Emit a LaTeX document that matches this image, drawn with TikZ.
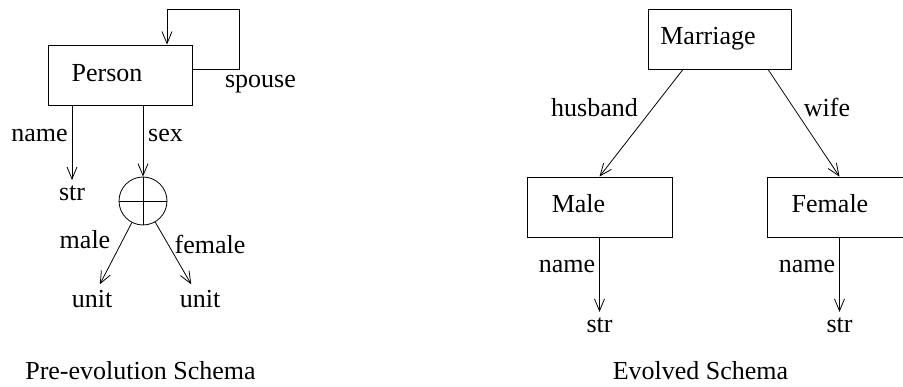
\documentclass[tikz,border=0pt]{standalone}
\usepackage{fontspec}
\setmainfont{Liberation Serif}
\usetikzlibrary{arrows.meta}

\begin{document}
\begin{tikzpicture}[x=1pt, y=-1pt, line width=0.8pt,
		font=\fontsize{26}{31}\selectfont,
		box/.style={draw, minimum width=144pt, minimum height=60pt},
		txt/.style={anchor=base, inner sep=6pt},
		arr/.style={-{Straight Barb[length=12pt, width=10pt]}}]
	\useasboundingbox (0,0) rectangle (903,387);

	% pre-evolution schema
	\node[box] (person) at (120,75) {};
	\node[txt] (persont) at (107,82) {Person};
	\coordinate (loop) at (239,9);
	\draw[arr] ([yshift=6pt]person.east) -| (loop) -| ([xshift=47pt]person.north);
	\node[txt] (spouse) at (260.5,88) {spouse};

	\node[txt] (strl) at (72,201) {str};
	\node[draw, circle, minimum size=48pt, inner sep=0pt] (sum) at (143,201) {};
	\draw (sum.north) -- (sum.south) (sum.west) -- (sum.east);
	\draw[arr] (strl |- person.south) -- (strl);
	\draw[arr] (sum |- person.south) -- (sum);
	\node[txt] (namel) at (39.5,142) {name};
	\node[txt] (sex) at (165.5,142) {sex};

	\node[txt] (unitl) at (92,308) {unit};
	\node[txt] (unitr) at (200,308) {unit};
	\draw[arr] (sum) -- (unitl);
	\draw[arr] (sum) -- (unitr);
	\node[txt] (male) at (85,249) {male};
	\node[txt] (female) at (210,254) {female};

	\node[txt] (pre) at (140.5,380) {Pre-evolution Schema};

	% evolved schema
	\node[box, minimum width=143pt] (marriage) at (719.5,39) {};
	\node[txt] (marriaget) at (708,45) {Marriage};
	\node[box, minimum width=145pt] (malebox) at (599.5,207) {};
	\node[txt] (malet) at (578.5,213) {Male};
	\node[box, minimum width=160pt] (femalebox) at (847,207) {};
	\node[txt] (femalet) at (830,213) {Female};

	\draw[arr] ([xshift=-36.5pt]marriage.south) -- (malebox.north);
	\draw[arr] ([xshift=48.5pt]marriage.south) -- ([xshift=-7.5pt]femalebox.north);
	\node[txt] (husband) at (594.5,117) {husband};
	\node[txt] (wife) at (827,117) {wife};

	\node[txt] (strm) at (599.5,333) {str};
	\node[txt] (strf) at (839.5,333) {str};
	\draw[arr] (malebox) -- (strm);
	\draw[arr] (femalebox.south -| strf) -- (strf);
	\node[txt] (namem) at (567,273) {name};
	\node[txt] (namef) at (807,273) {name};

	\node[txt] (evolved) at (700.5,380) {Evolved Schema};
\end{tikzpicture}
\end{document}
